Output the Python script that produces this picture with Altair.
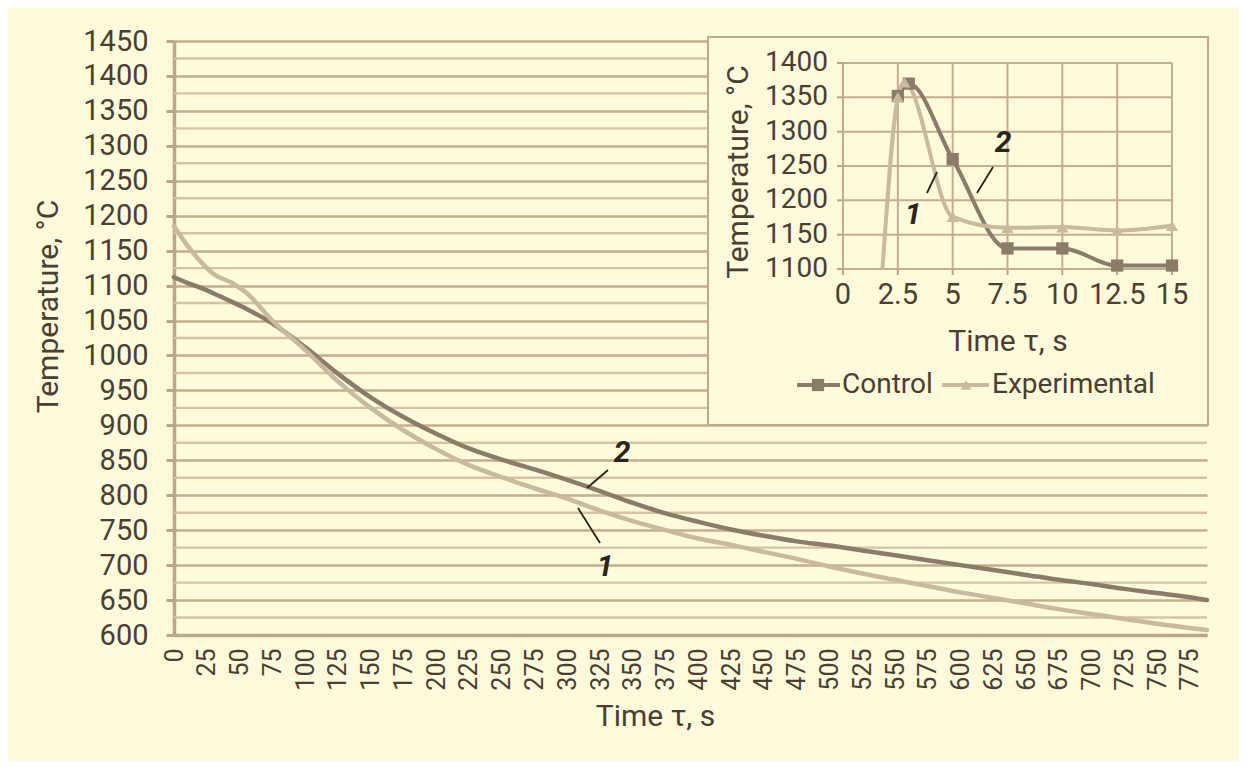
import altair as alt
import pandas as pd

# ---------------- data ----------------
series_names = ["Control", "Experimental"]

main_t = [0, 10, 20, 30, 45, 55, 75, 100, 125, 150, 175, 200, 225, 250, 275, 300,
          325, 350, 375, 400, 425, 450, 475, 500, 525, 550, 575, 600, 625, 650,
          675, 700, 725, 750, 775, 788]
control_T = [1112, 1104, 1097, 1089, 1076, 1067, 1046, 1012, 974, 940, 912, 888,
             867, 851, 837, 822, 806, 789, 774, 762, 751, 742, 734, 728, 721, 714,
             707, 700, 693, 686, 679, 673, 666, 660, 654, 650]
experimental_T = [1185, 1158, 1135, 1117, 1103, 1090, 1050, 1008, 963, 925, 893,
                  866, 843, 826, 810, 795, 778, 763, 750, 738, 729, 719, 709, 698,
                  688, 679, 670, 661, 653, 645, 637, 630, 623, 616, 610, 607]

inset_control_t = [2.5, 3.0, 5, 7.5, 10, 12.5, 15]
inset_control_T = [1352, 1370, 1260, 1130, 1130, 1105, 1105]
inset_exp_t = [1.8, 2.5, 2.8, 5, 7.5, 10, 12.5, 15]
inset_exp_T = [1100, 1350, 1372, 1176, 1160, 1161, 1156, 1163]

main_x_ticks = list(range(0, 800, 25))
main_y_ticks = list(range(600, 1500, 50))
main_y_minor = list(range(625, 1450, 50))
inset_x_ticks = [0, 2.5, 5, 7.5, 10, 12.5, 15]
inset_x_labels = ["0", "2.5", "5", "7.5", "10", "12.5", "15"]
inset_y_ticks = [1100, 1150, 1200, 1250, 1300, 1350, 1400]
inset_y_labels = ["1100", "1150", "1200", "1250", "1300", "1350", "1400"]

# ---------------- style ----------------
BG = "#FFFADC"
TXT = "#4A3F30"
AX = "#BCA78A"
MAJ = "#C4AE8E"
MIN = "#D5C3A5"
DARK = "#8A7C69"
LIGHT = "#C9B99F"
ANN = "#2B2418"
FONT = "Roboto"

color_scale = alt.Scale(domain=series_names, range=[DARK, LIGHT])

main_df = pd.DataFrame({
    "t": main_t + main_t,
    "T": control_T + experimental_T,
    "series": [series_names[0]] * len(main_t) + [series_names[1]] * len(main_t),
})
inset_df = pd.DataFrame({
    "t": inset_control_t + inset_exp_t,
    "T": inset_control_T + inset_exp_T,
    "series": [series_names[0]] * len(inset_control_t) + [series_names[1]] * len(inset_exp_t),
})
minor_df = pd.DataFrame({"y": main_y_minor, "x0": main_x_ticks[0], "x1": 788})
vgrid = pd.DataFrame({"x": inset_x_ticks, "y0": inset_y_ticks[0], "y1": inset_y_ticks[-1]})
hgrid = pd.DataFrame({"y": inset_y_ticks, "x0": inset_x_ticks[0], "x1": inset_x_ticks[-1]})
xtick_df = pd.DataFrame({"x": inset_x_ticks, "y": inset_y_ticks[0], "lab": inset_x_labels})
ytick_df = pd.DataFrame({"y": inset_y_ticks, "x": inset_x_ticks[0], "lab": inset_y_labels})
one = pd.DataFrame({"k": [0]})

# ---------------- scales ----------------
MX = dict(domain=[0, 788], nice=False, zero=False)
MY = dict(domain=[600, 1450], nice=False, zero=False)
IX = dict(domain=[0, 15], range=[669, 998], nice=False, zero=False)
IY = dict(domain=[1100, 1400], range=[228, 22], nice=False, zero=False)

def mx(f): return alt.X(f, type="quantitative", scale=alt.Scale(**MX), axis=None)
def my(f): return alt.Y(f, type="quantitative", scale=alt.Scale(**MY), axis=None)
def ix(f): return alt.X(f, type="quantitative", scale=alt.Scale(**IX), axis=None)
def iy(f): return alt.Y(f, type="quantitative", scale=alt.Scale(**IY), axis=None)

# ---------------- main chart ----------------
minor = alt.Chart(minor_df).mark_rule(color=MIN, strokeWidth=2.4).encode(
    y=my("y"), x=mx("x0"), x2="x1"
)

main = alt.Chart(main_df).mark_line(interpolate="monotone", strokeWidth=4.5, strokeCap="round").encode(
    x=alt.X("t:Q", scale=alt.Scale(**MX),
            axis=alt.Axis(values=main_x_ticks, format="d", labelAngle=270, labelFont=FONT,
                          labelFontSize=25, labelColor=TXT, labelPadding=13, labelFlush=False,
                          labelOverlap=False, tickSize=0, grid=False, domainColor=AX, domainWidth=3.5,
                          title="Time τ, s", titleFont=FONT, titleFontSize=30, titleFontWeight="normal",
                          titleColor=TXT, titleX=481, titleY=81, titleBaseline="middle")),
    y=alt.Y("T:Q", scale=alt.Scale(**MY),
            axis=alt.Axis(values=main_y_ticks, format="d",
                          labelFont=FONT, labelFontSize=29, labelColor=TXT, labelPadding=18,
                          labelOverlap=False, labelBound=False, labelFlush=False,
                          grid=True, gridColor=MAJ, gridWidth=2.4,
                          tickColor=AX, tickSize=8, tickWidth=3, domainColor=AX, domainWidth=3.5,
                          title="Temperature, °C", titleFont=FONT, titleFontSize=30,
                          titleFontWeight="normal", titleColor=TXT, titleAngle=270,
                          titleX=-126, titleY=265, titleBaseline="middle", titleAlign="center")),
    color=alt.Color("series:N", scale=color_scale, legend=None),
)

# ---------------- inset ----------------
frame = alt.Chart(one).mark_rect(fill=BG, stroke="#BFAA8C", strokeWidth=2).encode(
    x=alt.value(534), x2=alt.value(1034), y=alt.value(-4), y2=alt.value(384)
)

vg = alt.Chart(vgrid).mark_rule(color=MAJ, strokeWidth=2).encode(x=ix("x"), y=iy("y0"), y2="y1")
hg = alt.Chart(hgrid).mark_rule(color=MAJ, strokeWidth=2).encode(y=iy("y"), x=ix("x0"), x2="x1")

xticks = alt.Chart(xtick_df).mark_rule(color=AX, strokeWidth=2, y2Offset=6).encode(
    x=ix("x"), y=iy("y"), y2="y")
yticks = alt.Chart(ytick_df).mark_rule(color=AX, strokeWidth=2, x2Offset=-6).encode(
    y=iy("y"), x=ix("x"), x2="x")
xlabs = alt.Chart(xtick_df).mark_text(font=FONT, fontSize=29, color=TXT, align="center",
                                      baseline="top", dy=12).encode(
    x=ix("x"), y=iy("y"), text="lab:N")
ylabs = alt.Chart(ytick_df).mark_text(font=FONT, fontSize=28, color=TXT, align="right",
                                      baseline="middle", dx=-15).encode(
    x=ix("x"), y=iy("y"), text="lab:N")
ixtitle = alt.Chart(one).mark_text(font=FONT, fontSize=30, color=TXT, align="center",
                                   baseline="middle").encode(
    x=alt.value(834), y=alt.value(301), text=alt.value("Time τ, s"))
iytitle = alt.Chart(one).mark_text(font=FONT, fontSize=30, color=TXT, align="center",
                                   baseline="middle", angle=270).encode(
    x=alt.value(565), y=alt.value(131), text=alt.value("Temperature, °C"))

ilines = alt.Chart(inset_df).mark_line(interpolate="monotone", strokeWidth=4).encode(
    x=ix("t"), y=iy("T"),
    color=alt.Color("series:N", scale=color_scale, legend=None),
)
ipoints = alt.Chart(inset_df).transform_filter("datum.T > 1100").mark_point(
    filled=True, opacity=1, size=150
).encode(
    x=ix("t"), y=iy("T"),
    color=alt.Color("series:N", scale=color_scale, legend=None),
    shape=alt.Shape("series:N", scale=alt.Scale(domain=series_names, range=["square", "triangle-up"]),
                    legend=None),
)

# ---------------- legend (inset) ----------------
LY = 344
leg = [
    alt.Chart(one).mark_rule(color=DARK, strokeWidth=4).encode(x=alt.value(623), x2=alt.value(666), y=alt.value(LY)),
    alt.Chart(one).mark_point(shape="square", filled=True, opacity=1, size=150, color=DARK).encode(
        x=alt.value(644), y=alt.value(LY)),
    alt.Chart(one).mark_text(align="left", baseline="middle", font=FONT, fontSize=28, color=TXT).encode(
        x=alt.value(668), y=alt.value(LY), text=alt.value(series_names[0])),
    alt.Chart(one).mark_rule(color=LIGHT, strokeWidth=4).encode(x=alt.value(768), x2=alt.value(815), y=alt.value(LY)),
    alt.Chart(one).mark_point(shape="triangle-up", filled=True, opacity=1, size=120, color=LIGHT).encode(
        x=alt.value(792), y=alt.value(LY)),
    alt.Chart(one).mark_text(align="left", baseline="middle", font=FONT, fontSize=28, color=TXT).encode(
        x=alt.value(818), y=alt.value(LY), text=alt.value(series_names[1])),
]

# ---------------- curve labels ----------------
def ann_text(x, y, s):
    return alt.Chart(one).mark_text(font=FONT, fontSize=30, fontStyle="italic", fontWeight="bold",
                                    color=ANN, align="center", baseline="middle").encode(
        x=alt.value(x), y=alt.value(y), text=alt.value(s))

def ann_line(x1, y1, x2, y2):
    return alt.Chart(one).mark_rule(color=ANN, strokeWidth=1.8).encode(
        x=alt.value(x1), y=alt.value(y1), x2=alt.value(x2), y2=alt.value(y2))

anns = [
    ann_text(448, 412, "2"), ann_line(413, 447, 434, 429),
    ann_text(431, 526, "1"), ann_line(404, 467, 426, 502),
    ann_text(829, 102, "2"), ann_line(803, 152, 819, 126),
    ann_text(739, 174, "1"), ann_line(753, 152, 763, 131),
]

chart = alt.layer(
    minor, main, frame, vg, hg, xticks, yticks, xlabs, ylabs, ixtitle, iytitle,
    ilines, ipoints, *leg, *anns
).resolve_scale(
    x="independent", y="independent"
).properties(
    width=1033, height=594,
    autosize=alt.AutoSizeParams(type="none"),
    padding={"left": 166, "top": 33, "right": 32, "bottom": 126},
    background=BG,
).configure_view(stroke=None)

chart.save("out.html", embed_options={"renderer": "svg", "actions": False})
